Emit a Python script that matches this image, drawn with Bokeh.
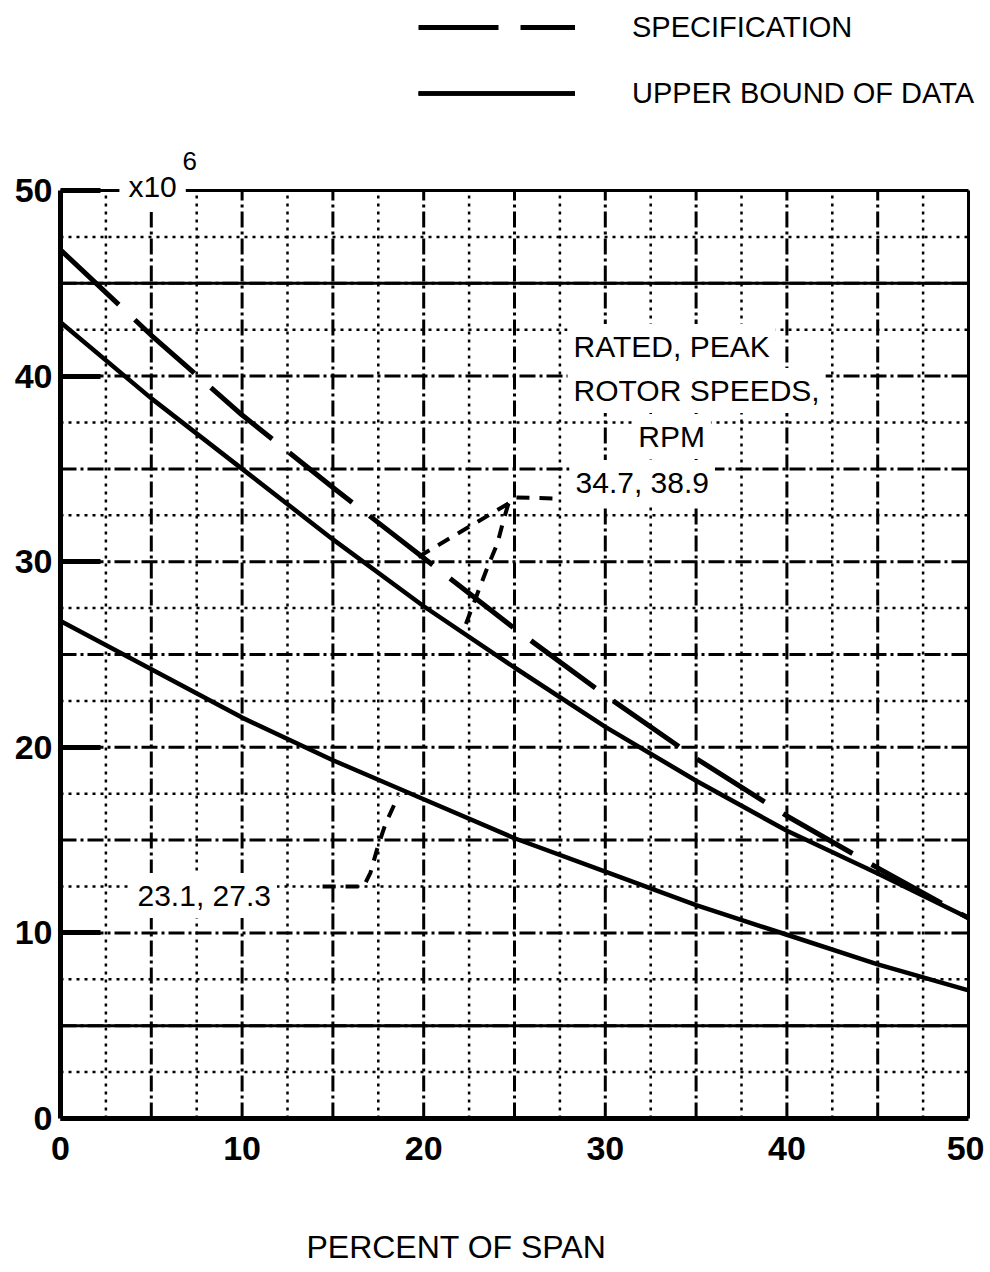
from bokeh.plotting import figure
from bokeh.models import (Range1d, FixedTicker, Label, Legend, LegendItem, LinearAxis)
from bokeh.embed import file_html
from bokeh.resources import INLINE

# ---------------- data ----------------
span_pct = [0, 5, 10, 15, 20, 25, 30, 35, 40, 45, 50]
specification = [46.8, 42.2, 37.9, 34.0, 30.2, 26.4, 22.8, 19.4, 16.3, 13.5, 10.8]
upper_fast = [42.9, 38.8, 35.0, 31.2, 27.6, 24.3, 21.1, 18.2, 15.5, 13.2, 10.8]   # 34.7, 38.9 rpm
upper_slow = [26.8, 24.2, 21.6, 19.3, 17.2, 15.1, 13.3, 11.5, 9.9, 8.3, 6.9]     # 23.1, 27.3 rpm

x_ticks = [0, 10, 20, 30, 40, 50]
y_ticks = [0, 10, 20, 30, 40, 50]
grid_major = [5, 10, 15, 20, 25, 30, 35, 40, 45]
grid_minor = [2.5, 7.5, 12.5, 17.5, 22.5, 27.5, 32.5, 37.5, 42.5, 47.5]
grid_solid_y = [5, 45]

# leader lines of the annotations
lead_fast_a_x = [27.09, 25.06, 24.67, 19.66]
lead_fast_a_y = [33.41, 33.46, 33.14, 30.23]
lead_fast_b_x = [24.67, 24.39, 24.06, 23.51, 22.96, 22.19]
lead_fast_b_y = [33.14, 32.22, 30.98, 29.69, 28.29, 26.29]
lead_slow_x = [14.43, 16.69, 17.07, 17.46, 17.90, 18.61]
lead_slow_y = [12.50, 12.50, 13.25, 14.60, 15.89, 17.40]

FONT = "Liberation Sans"
W, H = 984, 1266
X0_PX, X50_PX, Y0_PX, Y50_PX = 60, 968, 1118, 190   # where the chart box sits
sx = (X50_PX - X0_PX) / 50.0
sy = (Y0_PX - Y50_PX) / 50.0

p = figure(width=W, height=H,
           x_range=Range1d(-X0_PX / sx, (W - X0_PX) / sx),
           y_range=Range1d(-(H - Y0_PX) / sy, Y0_PX / sy),
           output_backend="svg", toolbar_location=None, min_border=0)
p.outline_line_color = None
p.background_fill_color = "white"
p.border_fill_color = "white"
p.xgrid.grid_line_color = None
p.ygrid.grid_line_color = None

# ---------------- axes (pinned to the chart box) ----------------
p.yaxis.fixed_location = 0
p.yaxis.bounds = (0, 50)
p.yaxis.ticker = FixedTicker(ticks=y_ticks)
p.yaxis.axis_line_width = 5
p.yaxis.major_tick_in = 40
p.yaxis.major_tick_out = 0
p.yaxis.major_tick_line_width = 5
p.yaxis.minor_tick_line_color = None
p.yaxis.major_label_text_font = FONT
p.yaxis.major_label_text_font_style = "bold"
p.yaxis.major_label_text_font_size = "34px"
p.yaxis.major_label_text_color = "black"
p.yaxis.major_label_standoff = 8

p.xaxis.fixed_location = 0
p.xaxis.bounds = (0, 50)
p.xaxis.ticker = FixedTicker(ticks=x_ticks)
p.xaxis.axis_line_width = 5
p.xaxis.major_tick_in = 0
p.xaxis.major_tick_out = 0
p.xaxis.minor_tick_line_color = None
p.xaxis.major_label_text_font = FONT
p.xaxis.major_label_text_font_style = "bold"
p.xaxis.major_label_text_font_size = "34px"
p.xaxis.major_label_text_color = "black"
p.xaxis.major_label_standoff = 18

for side in ("right", "above"):
    ax = LinearAxis(ticker=FixedTicker(ticks=[]), axis_line_width=3, fixed_location=50,
                    bounds=(0, 50), major_tick_line_color=None, minor_tick_line_color=None,
                    major_label_text_font_size="0px")
    p.add_layout(ax, side)

# ---------------- grid (2.5-unit cells) ----------------
p.segment(x0=grid_major, y0=0, x1=grid_major, y1=50, line_color="black",
          line_width=3, line_dash="16 4 3 4")
p.segment(x0=0, y0=grid_major, x1=50, y1=grid_major, line_color="black",
          line_width=3, line_dash="16 4 3 4")
p.segment(x0=grid_minor, y0=0, x1=grid_minor, y1=50, line_color="black",
          line_width=2.5, line_dash="3 5")
p.segment(x0=0, y0=grid_minor, x1=50, y1=grid_minor, line_color="black",
          line_width=2.5, line_dash="3 5")
p.segment(x0=0, y0=grid_solid_y, x1=50, y1=grid_solid_y, line_color="black", line_width=3)

# ---------------- curves ----------------
spec_r = p.line(span_pct, specification, line_color="black", line_width=5, line_dash="80 22")
fast_r = p.line(span_pct, upper_fast, line_color="black", line_width=4.5)
slow_r = p.line(span_pct, upper_slow, line_color="black", line_width=4.5)

for lx, ly in ((lead_fast_a_x, lead_fast_a_y), (lead_fast_b_x, lead_fast_b_y),
               (lead_slow_x, lead_slow_y)):
    p.line(lx, ly, line_color="black", line_width=4, line_dash="13 10")

# ---------------- texts ----------------
def lab(x, y, text, size="30px", align="left", bg=True, pad=6):
    # x is where the text itself starts; the white box's padding is taken off
    shift = pad / sx if align == "left" else 0
    p.add_layout(Label(x=x - shift, y=y, text=text, text_font=FONT, text_font_size=size,
                       text_align=align, text_baseline="middle", text_color="black",
                       background_fill_color="white" if bg else None, padding=pad))

lab(28.25, 41.59, "RATED, PEAK")
lab(28.25, 39.22, "ROTOR SPEEDS,")
lab(33.65, 36.75, "RPM", align="center")
lab(28.36, 34.27, "34.7, 38.9")
lab(4.24, 12.02, "23.1, 27.3")
lab(3.74, 50.22, "x10", pad=9)
lab(6.72, 51.6, "6", size="26px", pad=8)
lab(21.8, -6.9, "PERCENT OF SPAN", size="32px", align="center", bg=False)

# ---------------- legend (above the chart box) ----------------
legend = Legend(items=[LegendItem(label="SPECIFICATION", renderers=[spec_r]),
                       LegendItem(label="UPPER BOUND OF DATA", renderers=[fast_r, slow_r])],
                location=(418, H - 113), orientation="vertical",
                glyph_width=157, glyph_height=40, label_height=40, spacing=26,
                label_standoff=57, padding=0, margin=0,
                border_line_color=None, background_fill_alpha=0,
                label_text_font=FONT, label_text_font_size="29px",
                label_text_color="black")
p.add_layout(legend)

open("out.html", "w").write(file_html(p, INLINE))
